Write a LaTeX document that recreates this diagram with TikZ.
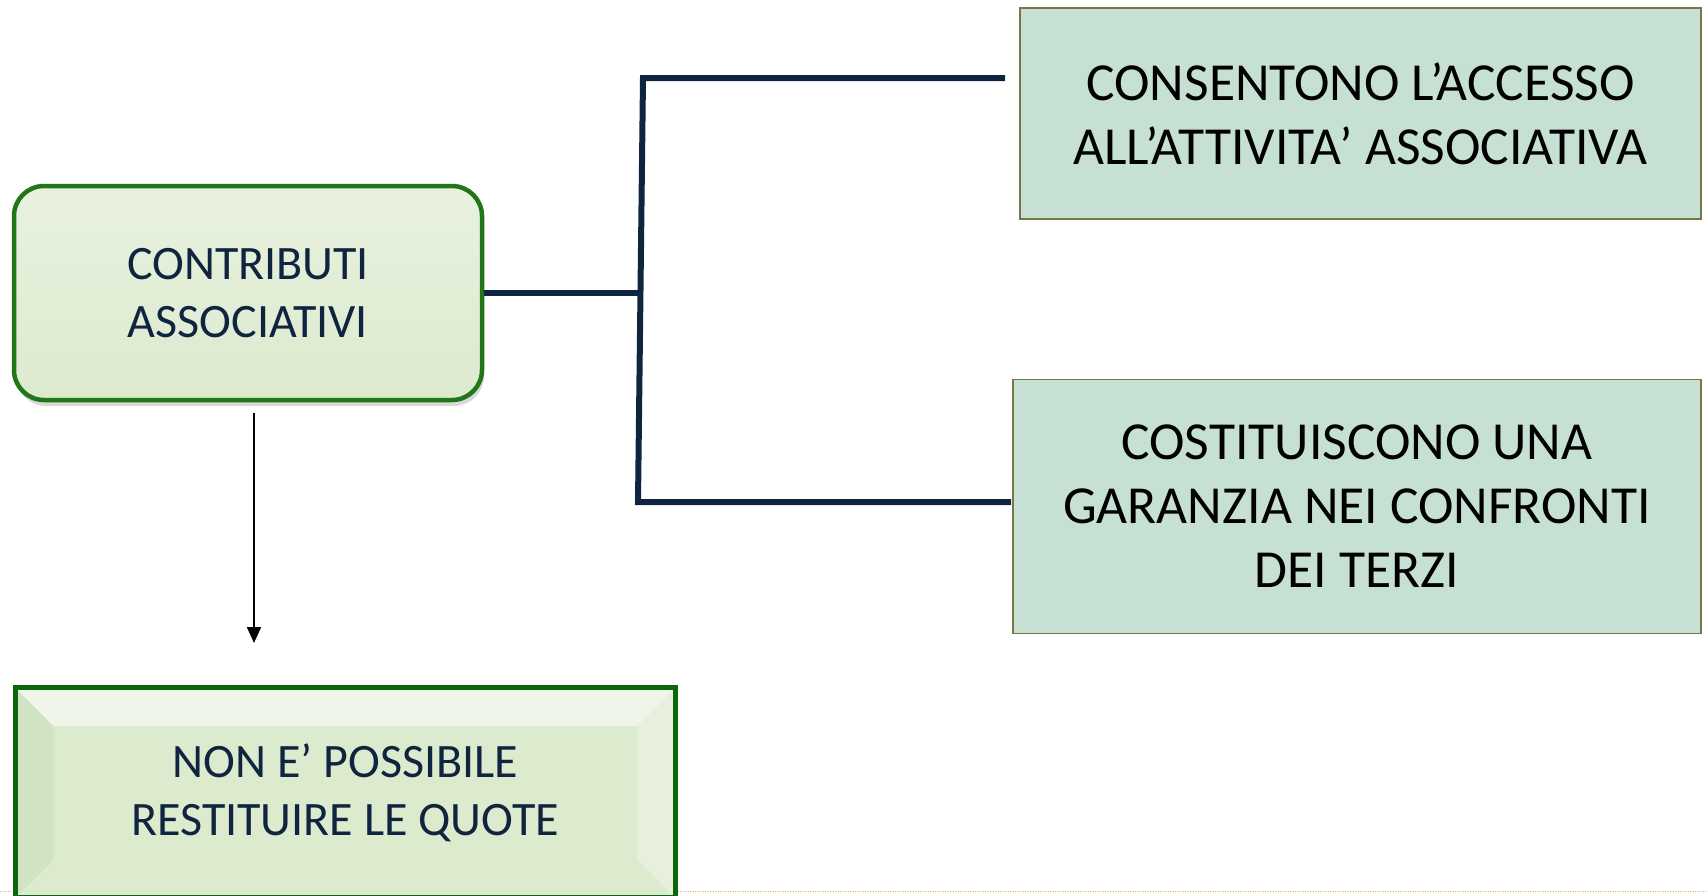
\documentclass[tikz,border=0pt]{standalone}
\usepackage{fontspec}
\setmainfont{Carlito}
\usepackage{tikz}
\usetikzlibrary{positioning, arrows.meta, shadows}
\definecolor{bluscuro}{RGB}{15,36,62}
\definecolor{verdebordo}{RGB}{34,118,26}
\definecolor{verdescuro}{RGB}{12,102,12}
\definecolor{verdechiaro}{RGB}{220,234,206}
\definecolor{menta}{RGB}{198,224,212}
\definecolor{oliva}{RGB}{120,118,72}
\definecolor{arancio}{RGB}{240,176,80}
\tikzset{every node/.style={align=center}}

\begin{document}
\begin{tikzpicture}[x=1pt,y=-1pt,line join=miter]
    \tikzstyle{tondo}=[draw=verdebordo, line width=4.5pt, rounded corners=30pt,
        top color=verdechiaro!65!white, bottom color=verdechiaro,
        drop shadow={shadow xshift=2pt, shadow yshift=-6pt, opacity=0.3},
        minimum width=468pt, minimum height=214pt, text=bluscuro,
        font=\fontsize{48}{58}\selectfont]
    \tikzstyle{smusso}=[draw=verdescuro, line width=5pt, fill=verdechiaro,
        minimum width=660pt, minimum height=210pt, text=bluscuro,
        font=\fontsize{48}{58}\selectfont,
        path picture={
            \fill[white, opacity=0.55] (path picture bounding box.north west) -- (path picture bounding box.north east)
                -- ([shift={(-38,38)}]path picture bounding box.north east) -- ([shift={(38,38)}]path picture bounding box.north west) -- cycle;
            \fill[green!40!black, opacity=0.05] (path picture bounding box.north west) -- ([shift={(38,38)}]path picture bounding box.north west)
                -- ([shift={(38,-38)}]path picture bounding box.south west) -- (path picture bounding box.south west) -- cycle;
            \fill[white, opacity=0.3] (path picture bounding box.north east) -- ([shift={(-38,38)}]path picture bounding box.north east)
                -- ([shift={(-38,-38)}]path picture bounding box.south east) -- (path picture bounding box.south east) -- cycle;
        }]
    \tikzstyle{riquadro}=[draw=oliva, line width=1.5pt, fill=menta, text=black,
        font=\fontsize{53.5}{64}\selectfont]
    \tikzstyle{linea}=[draw=bluscuro, line width=6pt]

    \useasboundingbox (0,0) rectangle (1708,895);
    \draw[arancio, line width=1pt, dash pattern=on 1pt off 1.5pt] (0,891) -- (1708,891);

    \node[tondo] (contributi) at (248,293) {CONTRIBUTI\\ASSOCIATIVI};
    \node[smusso] (quote) [below right=283pt and 1pt of contributi.south west] {NON E’ POSSIBILE\\RESTITUIRE LE QUOTE};
    \node[riquadro, minimum width=681pt, minimum height=211pt] (accesso) at (1360.5,113.5) {CONSENTONO L’ACCESSO\\ALL’ATTIVITA’ ASSOCIATIVA};
    \node[riquadro, minimum width=688pt, minimum height=254pt] (garanzia) [below right=159pt and -7pt of accesso.south west] {COSTITUISCONO UNA\\GARANZIA NEI CONFRONTI\\DEI TERZI};

    \coordinate (snodo) at (641,293);
    \coordinate (alto)  at (643,78);
    \coordinate (basso) at (638,502);
    \coordinate (fine1) at (1005,78);
    \coordinate (fine2) at (1011,502);
    \coordinate (punta) at (254,643);

    \draw[linea] (contributi.east) -- (snodo);
    \draw[linea] (fine1) -- (alto) -- (basso) -- (fine2);
    \draw[line width=2pt, -{Triangle[length=16pt,width=14pt]}] ([xshift=6pt,yshift=-11pt]contributi.south) -- (punta);
\end{tikzpicture}
\end{document}
